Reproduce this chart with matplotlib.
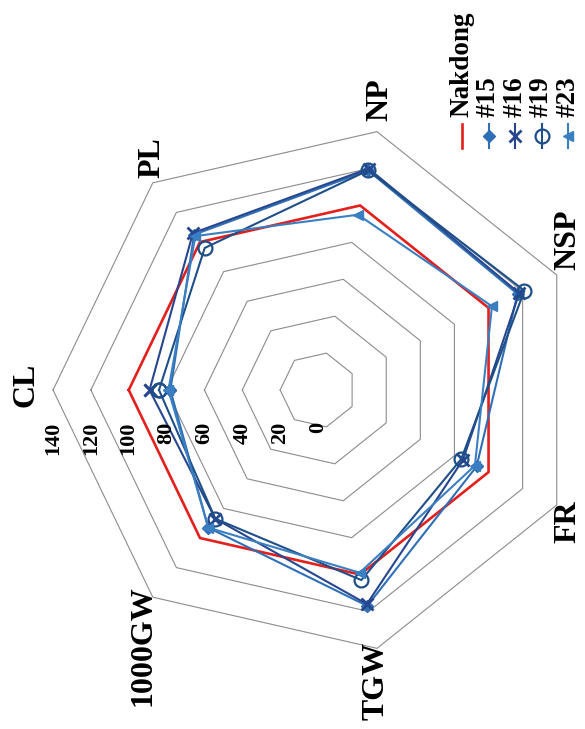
import matplotlib.pyplot as plt
import numpy as np
from matplotlib.lines import Line2D

plt.rcParams['font.family'] = ['Liberation Serif', 'DejaVu Serif']
plt.rcParams['font.weight'] = 'bold'

# traits on the radar, clockwise from the top (figure is turned on its side)
traits = ['CL', 'PL', 'NP', 'NSP', 'FR', 'TGW', '1000GW']
nakdong = [100, 100, 100, 100, 100, 100, 100]
line15 = [78, 105, 119, 117, 93, 117, 93]
line16 = [89, 106, 120, 118, 85, 116, 87]
line19 = [84, 96, 119, 121, 84, 103, 87]
line23 = [79, 104, 95, 102, 92, 99, 93]
rings = [20, 40, 60, 80, 100, 120, 140]
tick_values = [0, 20, 40, 60, 80, 100, 120, 140]

# where each trait label sits relative to its outer vertex (pixels, y down)
label_shift = [(-27, -5), (-1, -25), (3, -32), (11, -35), (11, 17),
               (-1, 33), (-10, 48)]

series = [
    ('Nakdong', nakdong, dict(color='#e3201c', lw=1.9, marker=None)),
    ('#15', line15, dict(color='#2f6fb5', lw=1.5, marker='D', ms=6.5,
                         mfc='#2f6fb5', mec='#2f6fb5')),
    ('#16', line16, dict(color='#26468f', lw=1.5, marker='x', ms=8, mew=2,
                         mec='#26468f')),
    ('#19', line19, dict(color='#1f4f88', lw=1.5, marker='o', ms=10, mew=1.6,
                         mfc='none', mec='#1f4f88')),
    ('#23', line23, dict(color='#3a7fc2', lw=1.5, marker='<', ms=7,
                         mfc='#3a7fc2', mec='#3a7fc2')),
]

fig = plt.figure(figsize=(5.85, 7.29), dpi=100)
ax = fig.add_axes([0.0906, 0.1015, 0.906, 0.727], projection='polar')
ax.set_theta_zero_location('W')
ax.set_theta_direction(-1)
ax.set_ylim(0, 140)
ax.set_axis_off()

theta = 2 * np.pi * np.arange(len(traits)) / len(traits)
theta_c = np.append(theta, theta[0])

# heptagon grid
for r in rings:
    ax.plot(theta_c, [r] * len(theta_c), color='#8c8c8c', lw=0.8,
            clip_on=False, zorder=1)

# data lines
for name, vals, style in series:
    ax.plot(theta_c, list(vals) + [vals[0]], clip_on=False, zorder=3, **style)

# radial tick labels along the CL axis
for v in tick_values:
    ax.annotate(str(v), xy=(0, v), xytext=(0, -23), textcoords='offset points',
                rotation=90, ha='center', va='top', fontsize=16,
                fontweight='bold', annotation_clip=False)

# trait labels
for t, name, (sx, sy) in zip(theta, traits, label_shift):
    ax.annotate(name, xy=(t, 140), xytext=(sx * 0.72, -sy * 0.72),
                textcoords='offset points', rotation=90, ha='center',
                va='center', fontsize=23, fontweight='bold',
                annotation_clip=False)

# legend drawn sideways, like the rest of the figure
W, H = 585, 729
for k, (name, vals, style) in enumerate(series):
    x = (462 + 26.5 * k) / W
    fig.add_artist(Line2D([x, x], [1 - 124 / H, 1 - 148 / H],
                          transform=fig.transFigure, color=style['color'],
                          lw=style['lw']))
    if style['marker']:
        mk = {key: val for key, val in style.items() if key not in ('lw',)}
        fig.add_artist(Line2D([x], [1 - 136 / H], transform=fig.transFigure,
                              linestyle='none', **mk))
    fig.text(x, 1 - 117 / H, name, rotation=90, ha='center', va='bottom',
             fontsize=19.5, fontweight='bold')

fig.savefig('out.png', dpi=100)
